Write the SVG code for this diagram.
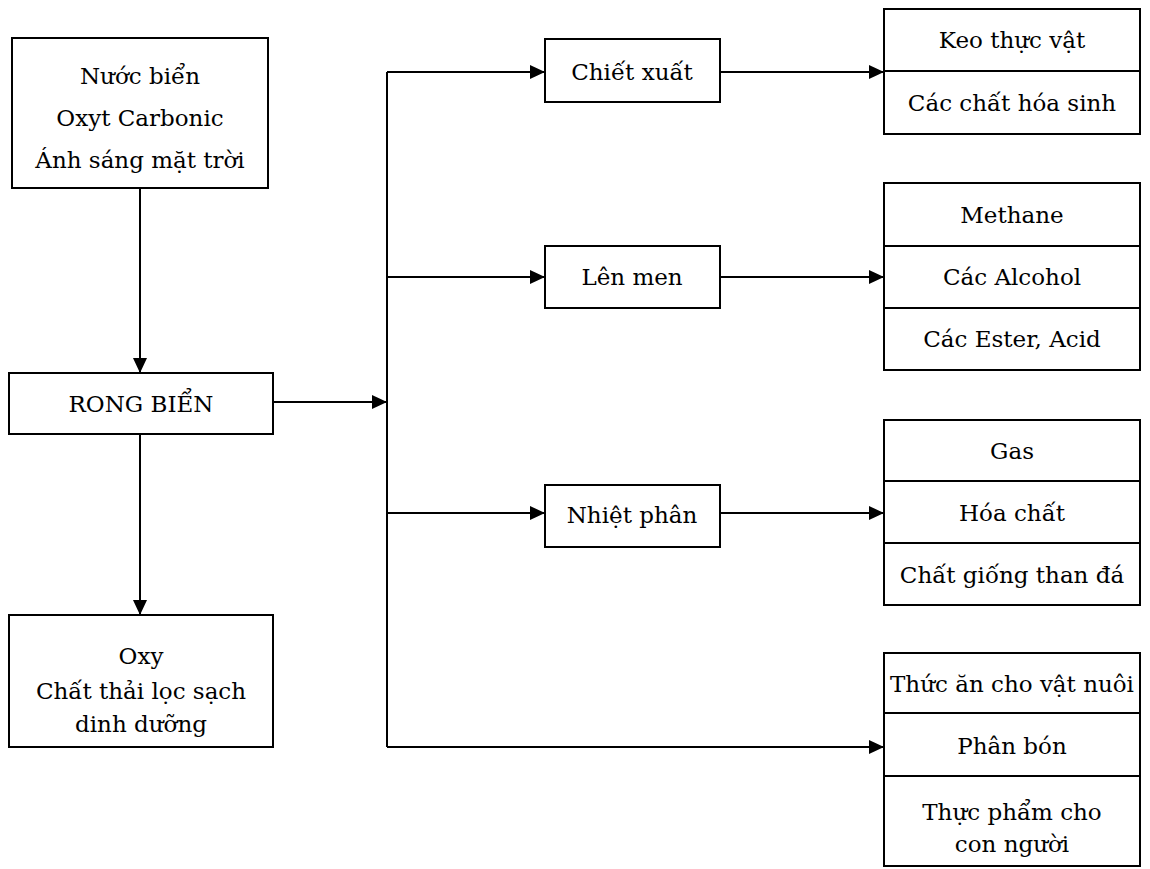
<svg xmlns="http://www.w3.org/2000/svg" width="1150" height="869" viewBox="0 0 1150 869">
<style>
rect, line.d { fill: #fff; stroke: #000; stroke-width: 2; }
line.d { fill: none; }
text { font-family: "DejaVu Serif", "Liberation Serif", serif; font-size: 23px; fill: #000; text-anchor: middle; }
.c path { fill: none; stroke: #000; stroke-width: 2; }
</style>
<defs>
<marker id="ah" markerUnits="userSpaceOnUse" markerWidth="16" markerHeight="14" refX="15" refY="7" orient="auto">
<path d="M0,0 L15,7 L0,14 Z" fill="#000"/>
</marker>
</defs>
<g class="c" id="connectors">
<path d="M140,188 V373" marker-end="url(#ah)"/>
<path d="M140,434 V615" marker-end="url(#ah)"/>
<path d="M273,402 H387" marker-end="url(#ah)"/>
<path d="M387,72 V747"/>
<path d="M387,72 H545" marker-end="url(#ah)"/>
<path d="M387,277 H545" marker-end="url(#ah)"/>
<path d="M387,513 H545" marker-end="url(#ah)"/>
<path d="M387,747 H884" marker-end="url(#ah)"/>
<path d="M720,72 H884" marker-end="url(#ah)"/>
<path d="M720,277 H884" marker-end="url(#ah)"/>
<path d="M720,513 H884" marker-end="url(#ah)"/>
</g>
<g id="inputs">
<rect x="12" y="38" width="256" height="150"/>
<text x="140" y="84">Nước biển</text>
<text x="140" y="126">Oxyt Carbonic</text>
<text x="140" y="168">Ánh sáng mặt trời</text>
</g>
<g id="rong-bien">
<rect x="9" y="373" width="264" height="61"/>
<text x="141" y="412">RONG BIỂN</text>
</g>
<g id="outputs">
<rect x="9" y="615" width="264" height="132"/>
<text x="141" y="664">Oxy</text>
<text x="141" y="699">Chất thải lọc sạch</text>
<text x="141" y="732">dinh dưỡng</text>
</g>
<g id="chiet-xuat">
<rect x="545" y="39" width="175" height="63"/>
<text x="632" y="80">Chiết xuất</text>
</g>
<g id="len-men">
<rect x="545" y="246" width="175" height="62"/>
<text x="632" y="285">Lên men</text>
</g>
<g id="nhiet-phan">
<rect x="545" y="485" width="175" height="62"/>
<text x="632" y="523">Nhiệt phân</text>
</g>
<g id="res-chiet-xuat">
<rect x="884" y="9" width="256" height="125"/>
<line class="d" x1="884" y1="71" x2="1140" y2="71"/>
<text x="1012" y="48">Keo thực vật</text>
<text x="1012" y="111">Các chất hóa sinh</text>
</g>
<g id="res-len-men">
<rect x="884" y="183" width="256" height="187"/>
<line class="d" x1="884" y1="246" x2="1140" y2="246"/>
<line class="d" x1="884" y1="308" x2="1140" y2="308"/>
<text x="1012" y="223">Methane</text>
<text x="1012" y="285">Các Alcohol</text>
<text x="1012" y="347">Các Ester, Acid</text>
</g>
<g id="res-nhiet-phan">
<rect x="884" y="420" width="256" height="185"/>
<line class="d" x1="884" y1="481" x2="1140" y2="481"/>
<line class="d" x1="884" y1="543" x2="1140" y2="543"/>
<text x="1012" y="459">Gas</text>
<text x="1012" y="521">Hóa chất</text>
<text x="1012" y="583">Chất giống than đá</text>
</g>
<g id="res-khac">
<rect x="884" y="653" width="256" height="213"/>
<line class="d" x1="884" y1="713" x2="1140" y2="713"/>
<line class="d" x1="884" y1="776" x2="1140" y2="776"/>
<text x="1012" y="692">Thức ăn cho vật nuôi</text>
<text x="1012" y="754">Phân bón</text>
<text x="1012" y="820">Thực phẩm cho</text>
<text x="1012" y="852">con người</text>
</g>
</svg>
